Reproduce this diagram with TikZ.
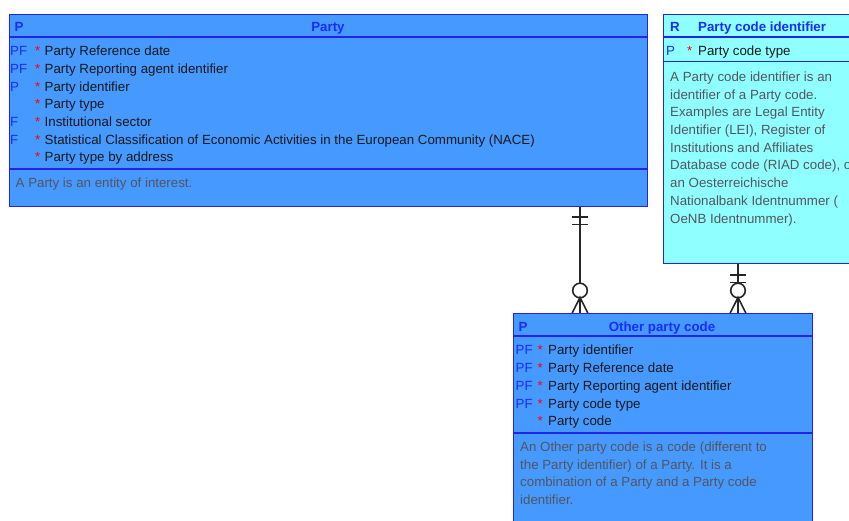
\documentclass[tikz,border=0pt]{standalone}
\usepackage{fontspec}
\setmainfont{Liberation Sans}
\usetikzlibrary{positioning,calc}
\definecolor{entblue}{RGB}{69,153,255}
\definecolor{entcyan}{RGB}{143,255,255}
\definecolor{edgeblue}{RGB}{35,35,235}
\definecolor{keyblue}{RGB}{25,45,255}
\definecolor{notegrey}{RGB}{85,85,95}
\newcommand{\erfont}{\fontsize{13.3}{15}\selectfont}
\tikzset{
  entity/.style={draw=edgeblue, line width=1.4pt, anchor=north west, inner sep=0pt},
  divider/.style={draw=edgeblue, line width=1.4pt},
  title/.style={anchor=base, inner sep=0pt, text=keyblue, font=\erfont\bfseries},
  tag/.style={anchor=base west, inner sep=0pt, text=keyblue, font=\erfont},
  star/.style={anchor=base west, inner sep=0pt, text=red, font=\erfont},
  attr/.style={anchor=base west, inner sep=0pt, text=black!90, font=\erfont},
  note/.style={anchor=base west, inner sep=0pt, text=notegrey, font=\erfont},
  rel/.style={draw=black!85, line width=1.6pt}
}
\begin{document}
\begin{tikzpicture}[x=1pt,y=-1pt]
	\clip (0,0) rectangle (849,521);
	\fill[white] (0,0) rectangle (849,521);
	% entities
	\node[entity, fill=entblue, minimum width=638, minimum height=192] (party) at (9,14) {};
	\node[entity, fill=entcyan, minimum width=260, minimum height=249] (pci) at (663,14) {};
	\node[entity, fill=entblue, minimum width=299, minimum height=260] (opc) at (513,313) {};
	\draw[divider] (party.west |- 0,37) -- (party.east |- 0,37);
	\draw[divider] (party.west |- 0,169) -- (party.east |- 0,169);
	\draw[divider] (pci.west |- 0,37) -- (pci.east |- 0,37);
	\draw[divider] (pci.west |- 0,61.5) -- (pci.east |- 0,61.5);
	\draw[divider] (opc.west |- 0,336) -- (opc.east |- 0,336);
	\draw[divider] (opc.west |- 0,433) -- (opc.east |- 0,433);

	% Party
	\node[title] (party-k) at (19,31.5) {P};
	\node[title] (party-t) at (328,31.5) {Party};
	\foreach \k/\a [count=\i from 0] in {PF/Party Reference date, PF/Party Reporting agent identifier, P/Party identifier, /Party type, F/Institutional sector, F/Statistical Classification of Economic Activities in the European Community (NACE), /Party type by address} {
		\node[tag] (party-tag\i) at (10,55.7+17.7*\i) {\k};
		\node[star] (party-star\i) at (35,55.7+17.7*\i) {*};
		\node[attr] (party-attr\i) at (44.5,55.7+17.7*\i) {\a};
	}
	\node[note] (party-note) at (15.5,188) {A Party is an entity of interest.};

	% Party code identifier
	\node[title, anchor=base west] (pci-k) at (670,31.5) {R};
	\node[title, anchor=base west] (pci-t) at (698,31.5) {Party code identifier};
	\node[tag] (pci-tag) at (666,55.7) {P};
	\node[star] (pci-star) at (687,55.7) {*};
	\node[attr] (pci-attr) at (698,55.7) {Party code type};
	\foreach \l [count=\i from 0] in {A Party code identifier is an, identifier of a Party code., Examples are Legal Entity, {Identifier (LEI), Register of}, Institutions and Affiliates, {Database code (RIAD code), or}, an Oesterreichische, Nationalbank Identnummer (, OeNB Identnummer).} {
		\node[note] (pci-note\i) at (670,81.5+17.7*\i) {\l};
	}

	% Other party code
	\node[title] (opc-k) at (523,331.5) {P};
	\node[title] (opc-t) at (662,331.5) {Other party code};
	\foreach \k/\a [count=\i from 0] in {PF/Party identifier, PF/Party Reference date, PF/Party Reporting agent identifier, PF/Party code type, /Party code} {
		\node[tag] (opc-tag\i) at (515.5,355+17.7*\i) {\k};
		\node[star] (opc-star\i) at (537.5,355+17.7*\i) {*};
		\node[attr] (opc-attr\i) at (548,355+17.7*\i) {\a};
	}
	\foreach \l [count=\i from 0] in {An Other party code is a code (different to, the Party identifier) of a Party. It is a, combination of a Party and a Party code, identifier.} {
		\node[note] (opc-note\i) at (520,451.5+17.7*\i) {\l};
	}

	% relationships
	\coordinate (lnkA) at (580,0);
	\coordinate (lnkB) at (738,0);
	\draw[rel] (party.south -| lnkA) -- (opc.north -| lnkA);
	\draw[rel] ($(party.south -| lnkA)+(-8,9.5)$) -- ++(16,0);
	\draw[rel] ($(party.south -| lnkA)+(-8,17)$) -- ++(16,0);
	\draw[rel, fill=white] ($(opc.north -| lnkA)+(0,-22.5)$) circle (7.3);
	\draw[rel] ($(opc.north -| lnkA)+(-7.8,0)$) -- ($(opc.north -| lnkA)+(0,-15.5)$) -- ($(opc.north -| lnkA)+(7.8,0)$);

	\draw[rel] (pci.south -| lnkB) -- (opc.north -| lnkB);
	\draw[rel] ($(pci.south -| lnkB)+(-8,10.5)$) -- ++(16,0);
	\draw[rel] ($(pci.south -| lnkB)+(-8,18)$) -- ++(16,0);
	\draw[rel, fill=white] ($(opc.north -| lnkB)+(0,-22.5)$) circle (7.3);
	\draw[rel] ($(opc.north -| lnkB)+(-7.8,0)$) -- ($(opc.north -| lnkB)+(0,-15.5)$) -- ($(opc.north -| lnkB)+(7.8,0)$);
\end{tikzpicture}
\end{document}
